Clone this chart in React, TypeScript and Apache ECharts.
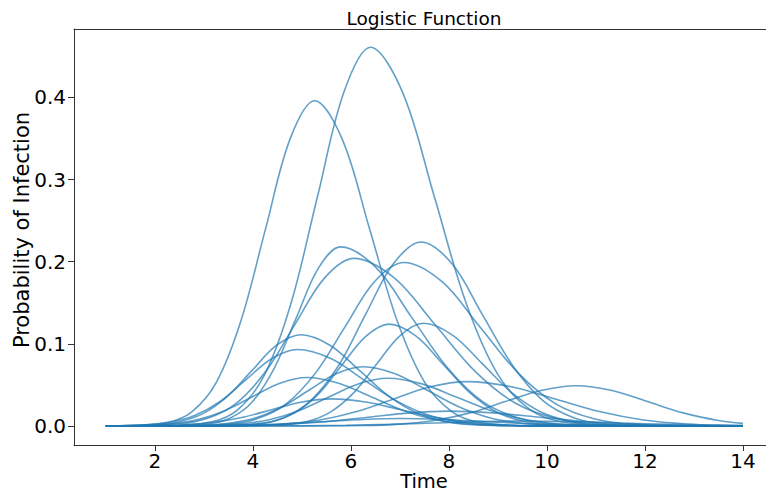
import React, { useEffect, useRef } from "react";
import * as echarts from "echarts";

// Tick labels
const timeTicks = [2, 4, 6, 8, 10, 12, 14];
const probTicks = [0, 0.1, 0.2, 0.3, 0.4];

// Each curve: [time, probability] pairs
const curveA = [[1, 0], [1.26, 0.0001], [2.26, 0.0044], [2.76, 0.0174], [3.26, 0.0536], [3.76, 0.1286], [4.26, 0.2402], [4.76, 0.3495], [5.26, 0.396], [5.82, 0.3495], [6.38, 0.2402], [6.94, 0.1286], [7.5, 0.0536], [8.06, 0.0174], [8.62, 0.0044], [9.74, 0.0001], [14, 0]];
const curveB = [[1, 0], [2.08, 0.0002], [3.16, 0.0051], [3.7, 0.0202], [4.24, 0.0624], [4.78, 0.1497], [5.32, 0.2796], [5.86, 0.4068], [6.4, 0.461], [7.05, 0.4068], [7.7, 0.2796], [8.35, 0.1497], [9.0, 0.0624], [9.65, 0.0202], [10.3, 0.0051], [11.6, 0.0002], [14, 0]];
const curveC = [[1, 0], [2.19, 0.0001], [3.09, 0.0024], [3.54, 0.0096], [3.99, 0.0295], [4.44, 0.0708], [4.89, 0.1322], [5.34, 0.1924], [5.79, 0.218], [6.52, 0.1924], [7.24, 0.1322], [7.97, 0.0708], [8.69, 0.0295], [9.42, 0.0096], [10.14, 0.0024], [11.59, 0.0001], [14, 0]];
const curveD = [[1, 0], [1.26, 0.0001], [2.46, 0.0023], [3.06, 0.009], [3.66, 0.0276], [4.26, 0.0662], [4.86, 0.1237], [5.46, 0.18], [6.06, 0.204], [6.89, 0.18], [7.71, 0.1237], [8.54, 0.0662], [9.36, 0.0276], [10.19, 0.009], [11.01, 0.0023], [12.66, 0.0001], [14, 0]];
const curveE = [[1, 0], [2.91, 0.0001], [4.04, 0.0025], [4.61, 0.0098], [5.17, 0.0303], [5.74, 0.0727], [6.3, 0.1359], [6.87, 0.1977], [7.43, 0.224], [8.06, 0.1977], [8.68, 0.1359], [9.31, 0.0727], [9.93, 0.0303], [10.56, 0.0098], [11.18, 0.0025], [12.43, 0.0001], [14, 0]];
const curveF = [[1, 0], [2.28, 0.0001], [3.48, 0.0022], [4.08, 0.0087], [4.68, 0.0269], [5.28, 0.0646], [5.88, 0.1207], [6.48, 0.1756], [7.08, 0.199], [7.86, 0.1756], [8.63, 0.1207], [9.41, 0.0646], [10.18, 0.0269], [10.96, 0.0087], [11.73, 0.0022], [13.28, 0.0001], [14, 0]];
const curveG = [[1, 0], [2.98, 0.0], [3.93, 0.0014], [4.41, 0.0054], [4.88, 0.0168], [5.36, 0.0403], [5.83, 0.0752], [6.31, 0.1094], [6.78, 0.124], [7.33, 0.1094], [7.88, 0.0752], [8.43, 0.0403], [8.98, 0.0168], [9.53, 0.0054], [10.08, 0.0014], [11.18, 0.0], [14, 0]];
const curveH = [[1, 0], [3.68, 0.0], [4.63, 0.0014], [5.11, 0.0055], [5.58, 0.0169], [6.06, 0.0406], [6.53, 0.0758], [7.01, 0.1103], [7.48, 0.125], [8.08, 0.1103], [8.68, 0.0758], [9.28, 0.0406], [9.88, 0.0169], [10.48, 0.0055], [11.08, 0.0014], [12.28, 0.0], [14, 0]];
const curveI = [[1, 0], [1.98, 0.0012], [2.48, 0.0049], [2.98, 0.015], [3.48, 0.036], [3.98, 0.0673], [4.48, 0.098], [4.98, 0.111], [5.58, 0.098], [6.18, 0.0673], [6.78, 0.036], [7.38, 0.015], [7.98, 0.0049], [8.58, 0.0012], [9.78, 0.0], [14, 0]];
const curveJ = [[1, 0], [1.76, 0.001], [2.29, 0.0041], [2.81, 0.0126], [3.34, 0.0302], [3.86, 0.0564], [4.39, 0.0821], [4.91, 0.093], [5.59, 0.0821], [6.26, 0.0564], [6.94, 0.0302], [7.61, 0.0126], [8.29, 0.0041], [8.96, 0.001], [10.31, 0.0], [14, 0]];
const curveK = [[1, 0], [1.85, 0.0], [2.95, 0.0008], [3.5, 0.0032], [4.05, 0.0097], [4.6, 0.0234], [5.15, 0.0437], [5.7, 0.0635], [6.25, 0.072], [6.9, 0.0635], [7.55, 0.0437], [8.2, 0.0234], [8.85, 0.0097], [9.5, 0.0032], [10.15, 0.0008], [11.45, 0.0], [14, 0]];
const curveL = [[1, 0], [1.8, 0.0007], [2.35, 0.0026], [2.9, 0.008], [3.45, 0.0192], [4.0, 0.0358], [4.55, 0.0521], [5.1, 0.059], [5.75, 0.0521], [6.4, 0.0358], [7.05, 0.0192], [7.7, 0.008], [8.35, 0.0026], [9.0, 0.0007], [10.3, 0.0], [14, 0]];
const curveM = [[1, 0], [1.95, 0.0], [3.15, 0.0006], [3.75, 0.0025], [4.35, 0.0078], [4.95, 0.0188], [5.55, 0.0352], [6.15, 0.0512], [6.75, 0.058], [7.45, 0.0512], [8.15, 0.0352], [8.85, 0.0188], [9.55, 0.0078], [10.25, 0.0025], [10.95, 0.0006], [12.35, 0.0], [14, 0]];
const curveN = [[1, 0], [2.37, 0.0], [3.87, 0.0006], [4.62, 0.0024], [5.37, 0.0073], [6.12, 0.0175], [6.87, 0.0328], [7.62, 0.0477], [8.37, 0.054], [9.27, 0.0477], [10.17, 0.0328], [11.07, 0.0175], [11.97, 0.0073], [12.87, 0.0024], [13.77, 0.0006], [14, 0.0004]];
const curveO = [[1, 0], [4.8, 0.0], [6.25, 0.0005], [6.98, 0.0022], [7.7, 0.0066], [8.43, 0.0159], [9.15, 0.0297], [9.88, 0.0432], [10.6, 0.049], [11.33, 0.0432], [12.05, 0.0297], [12.78, 0.0159], [13.5, 0.0066], [14, 0.0031]];
const curveP = [[1, 0], [2.0, 0.0004], [2.6, 0.0014], [3.2, 0.0045], [3.8, 0.0107], [4.4, 0.02], [5.0, 0.0291], [5.6, 0.033], [6.3, 0.0291], [7.0, 0.02], [7.7, 0.0107], [8.4, 0.0045], [9.1, 0.0014], [9.8, 0.0004], [11.2, 0.0], [14, 0]];
const curveQ = [[1, 0], [3.2, 0.0002], [4.0, 0.0008], [4.8, 0.0024], [5.6, 0.0058], [6.4, 0.0109], [7.2, 0.0159], [8.0, 0.018], [8.9, 0.0159], [9.8, 0.0109], [10.7, 0.0058], [11.6, 0.0024], [12.5, 0.0008], [13.4, 0.0002], [14, 0]];
const curveR = [[1, 0], [3.25, 0.0004], [4.0, 0.0012], [4.75, 0.0029], [5.5, 0.0055], [6.25, 0.0079], [7.0, 0.009], [7.85, 0.0079], [8.7, 0.0055], [9.55, 0.0029], [10.4, 0.0012], [11.25, 0.0004], [14, 0]];
const curveS = [[1, 0], [5.0, 0.0003], [5.9, 0.0008], [6.8, 0.0019], [7.7, 0.0036], [8.6, 0.0053], [9.5, 0.006], [10.5, 0.0053], [11.5, 0.0036], [12.5, 0.0019], [13.5, 0.0008], [14, 0.0005]];

const curves = [curveA, curveB, curveC, curveD, curveE, curveF, curveG, curveH, curveI, curveJ, curveK, curveL, curveM, curveN, curveO, curveP, curveQ, curveR, curveS];

const FONT = "DejaVu Sans";
const X_MIN = 0.35;
const X_MAX = 14.47;
const Y_MIN = -0.0232;
const Y_MAX = 0.4833;

export default function App() {
  const ref = useRef<HTMLDivElement>(null);
  useEffect(() => {
    if (!ref.current) return;
    const chart = echarts.init(ref.current, undefined, { renderer: "svg" });
    chart.setOption({
      animation: false,
      backgroundColor: "#ffffff",
      grid: {
        left: 74,
        top: 29,
        right: 0,
        height: 416,
        show: false,
      },
      xAxis: [
        {
          type: "value",
          min: X_MIN,
          max: X_MAX,
          position: "bottom",
          axisLine: { show: true, onZero: false, lineStyle: { color: "#333333", width: 1 } },
          axisTick: { show: true, inside: false, length: 6, customValues: timeTicks, lineStyle: { color: "#333333" } },
          axisLabel: {
            customValues: timeTicks,
            formatter: (v: number) => String(v),
            fontSize: 20,
            fontFamily: FONT,
            color: "#000000",
            margin: 6,
          },
          splitLine: { show: false },
        },
        {
          type: "value",
          min: X_MIN,
          max: X_MAX,
          position: "top",
          axisLine: { show: true, onZero: false, lineStyle: { color: "#333333", width: 1 } },
          axisTick: { show: false },
          axisLabel: { show: false },
          splitLine: { show: false },
        },
      ],
      yAxis: {
        type: "value",
        min: Y_MIN,
        max: Y_MAX,
        axisLine: { show: true, onZero: false, lineStyle: { color: "#333333", width: 1 } },
        axisTick: { show: true, inside: false, length: 6, customValues: probTicks, lineStyle: { color: "#333333" } },
        axisLabel: {
          customValues: probTicks,
          formatter: (v: number) => v.toFixed(1),
          fontSize: 20,
          fontFamily: FONT,
          color: "#000000",
          margin: 8,
        },
        splitLine: { show: false },
      },
      graphic: [
        {
          type: "text",
          x: 424,
          y: 18,
          style: { text: "Logistic Function", fontSize: 18.5, fontFamily: FONT, fill: "#000000", align: "center", verticalAlign: "middle" },
        },
        {
          type: "text",
          x: 424,
          y: 481,
          style: { text: "Time", fontSize: 19.5, fontFamily: FONT, fill: "#000000", align: "center", verticalAlign: "middle" },
        },
        {
          type: "text",
          x: 22,
          y: 230,
          rotation: Math.PI / 2,
          style: { text: "Probability of Infection", fontSize: 21, fontFamily: FONT, fill: "#000000", align: "center", verticalAlign: "middle" },
        },
      ],
      series: curves.map((c) => ({
        type: "line",
        xAxisIndex: 0,
        data: c,
        smooth: 0.35,
        showSymbol: false,
        symbol: "none",
        silent: true,
        lineStyle: { color: "#1f77b4", width: 1.6, opacity: 0.7 },
      })),
    });
    return () => chart.dispose();
  }, []);
  return (
    <div
      ref={ref}
      style={{ position: "fixed", left: 0, top: 0, width: 766, height: 493, background: "#fff" }}
    />
  );
}
